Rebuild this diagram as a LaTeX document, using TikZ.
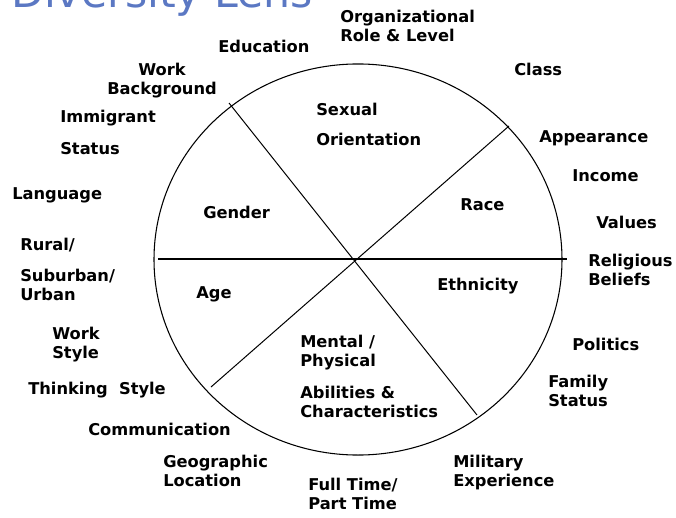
\documentclass[tikz,border=0pt]{standalone}
\usepackage{fontspec}
\setmainfont{DejaVu Sans}
\usetikzlibrary{shapes.geometric}
\definecolor{titleblue}{RGB}{91,120,195}
\begin{document}
\begin{tikzpicture}[x=0.75pt,y=-0.75pt,
  lbl/.style={font=\bfseries\fontsize{12.2}{14.3}\selectfont, inner sep=0pt, anchor=north west, align=left},
  rim/.style={draw, ellipse, inner sep=0pt, line width=0.8pt},
  spoke/.style={line width=0.75pt},
  axisline/.style={line width=1.6pt}]
\useasboundingbox (0,0) rectangle (676,518);
\clip (0,0) rectangle (676,518);
% title (cut off at the top)
\node[anchor=base west, inner sep=0pt, text=titleblue, font=\fontsize{32}{36}\selectfont] (title) at (11,7) {Diversity Lens};
% lens
\node[rim, minimum width=306pt, minimum height=293.3pt] (lens) at (358,259.5) {};
\coordinate (h1) at (158,259);
\coordinate (h2) at (567,259);
\coordinate (d1a) at (229,103);
\coordinate (d1b) at (477,415);
\coordinate (d2a) at (509,126);
\coordinate (d2b) at (211,387);
\draw[axisline] (h1) -- (h2);
\draw[spoke] (d1a) -- (d1b);
\draw[spoke] (d2a) -- (d2b);
% inner labels
\node[lbl] (sex) at (316,103) {Sexual\\[8.2pt]Orientation};
\node[lbl] (race) at (460,198) {Race};
\node[lbl] (gender) at (203,206) {Gender};
\node[lbl] (eth) at (437,278) {Ethnicity};
\node[lbl] (age) at (196,286) {Age};
\node[lbl] (mental) at (300,335) {Mental /\\Physical\\[9.7pt]Abilities \&\\Characteristics};
% outer labels
\node[lbl] (org) at (340,10) {Organizational\\Role \& Level};
\node[lbl] (edu) at (218,40) {Education};
\node[lbl] (class) at (514,63) {Class};
\node[lbl, anchor=north, align=center] (workbg) at (162,63) {Work\\Background};
\node[lbl] (immig) at (60,110) {Immigrant\\[9.7pt]Status};
\node[lbl] (appear) at (539,130) {Appearance};
\node[lbl] (income) at (572,169) {Income};
\node[lbl] (lang) at (12,187) {Language};
\node[lbl] (values) at (596,216) {Values};
\node[lbl] (rural) at (20,238) {Rural/\\[9pt]Suburban/\\Urban};
\node[lbl] (relig) at (588,254) {Religious\\Beliefs};
\node[lbl] (workst) at (52,327) {Work\\Style};
\node[lbl] (pol) at (572,338) {Politics};
\node[lbl] (family) at (548,375) {Family\\Status};
\node[lbl] (think) at (28,382) {Thinking\ \ Style};
\node[lbl] (comm) at (88,423) {Communication};
\node[lbl] (geo) at (163,455) {Geographic\\Location};
\node[lbl] (mil) at (453,455) {Military\\Experience};
\node[lbl] (full) at (308,478) {Full Time/\\Part Time};
\end{tikzpicture}
\end{document}
